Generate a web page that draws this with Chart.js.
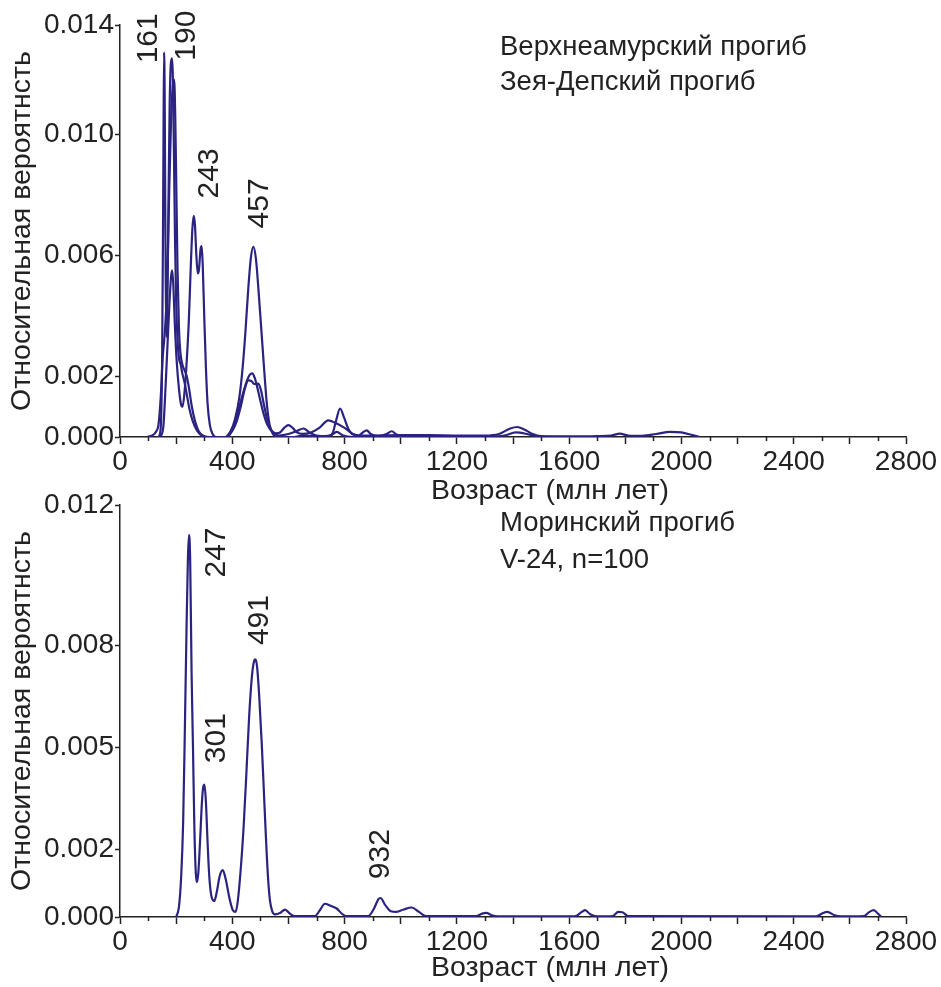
<!DOCTYPE html>
<html><head><meta charset="utf-8">
<script src="https://cdn.jsdelivr.net/npm/chart.js@4/dist/chart.umd.min.js"></script>
<style>
html,body{margin:0;padding:0;background:#fff;}
#wrap{position:relative;width:941px;height:987px;overflow:hidden;background:#fff;}
#c1{position:absolute;left:0;top:0;}
#c2{position:absolute;left:0;top:475px;}
</style></head><body>
<div id="wrap"><canvas id="c1" width="941" height="505"></canvas><canvas id="c2" width="941" height="512"></canvas></div>
<script>
// ---------- DATA ----------
// Top panel: three probability-density curves (age in Ma, relative probability)
const ageA = [138,145,150,153,155,157,159,161,163,166,169,173,177,181,185,188,192,196,200,205,210,216,222,230,238,248,260,275,295,320,375,395,410,425,440,452,462,471,480,490,500,512,525,540,555,570,585,600,615,630,650,680,710,742,770,800,830,850,900,1000,1100,1200,1300,1350,1390,1415,1440,1470,1500,1600,1700,1750,1781,1810,1860,1910,1959,2000,2040,2065];
const probA = [0,0.0003,0.0025,0.0065,0.010,0.0127,0.0115,0.008,0.005,0.0033,0.0045,0.008,0.011,0.0123,0.0125,0.012,0.0095,0.0065,0.0045,0.0032,0.0026,0.0024,0.0021,0.0018,0.0014,0.0009,0.0005,0.0002,0.00003,0,0,0.0002,0.0005,0.001,0.0015,0.00185,0.00205,0.0021,0.00195,0.0016,0.0012,0.00075,0.0004,0.0002,0.00012,0.00015,0.0003,0.00039,0.0003,0.00015,0.0001,0.00015,0.0003,0.00055,0.00045,0.0003,0.0001,0.00005,0.00005,0.00006,0.00006,0.00005,0.00005,0.0001,0.00028,0.00033,0.00025,0.0001,0.00003,0.00002,0.00003,0.00005,0.00011,0.00005,0.00004,0.0001,0.00017,0.00015,0.00006,0];
const ageB = [95,115,130,137,145,152,160,168,175,182,188,193,197,201,205,210,215,222,230,238,246,256,268,280,295,310,380,400,415,430,445,457,468,478,486,493,502,512,524,538,552,565,600,630,653,675,700,740,756,770,784,798,812,830,850,865,879,893,920,950,968,985,1010,1100,1300,1370,1410,1450,1490,1600];
const probB = [0,0.00005,0.0002,0.0004,0.0013,0.0026,0.0035,0.005,0.008,0.0105,0.0116,0.0118,0.0105,0.008,0.0055,0.0036,0.0028,0.0024,0.0022,0.002,0.0016,0.001,0.0005,0.0002,0.00005,0,0,0.0002,0.0005,0.001,0.0016,0.00187,0.00185,0.00175,0.00175,0.00176,0.00155,0.0011,0.0006,0.00025,0.0001,0.00005,0.0001,0.0002,0.00028,0.00015,0.00005,0.00003,0.0001,0.00055,0.00094,0.00065,0.0003,0.00008,0.00005,0.00015,0.00022,0.0001,0.00003,0.0001,0.00019,0.00008,0.00002,0.00002,0.00002,0.00005,0.00015,0.0001,0.00001,0];
const ageC = [145,155,163,170,176,182,186,190,195,202,210,217,223,230,237,245,252,258,263,267,272,277,281,287,291,295,300,306,312,320,330,342,380,395,410,425,437,447,457,466,475,484,493,503,513,523,533,545,560,620,650,700,750,772,795,830,1000];
const probC = [0,0.0004,0.0018,0.0032,0.0044,0.0053,0.0055,0.005,0.0038,0.0025,0.0016,0.0011,0.001,0.0015,0.0024,0.0038,0.0056,0.0069,0.0073,0.007,0.006,0.0054,0.0055,0.0062,0.0063,0.0056,0.004,0.0023,0.0011,0.0004,0.0001,0,0,0.0002,0.0006,0.0013,0.0023,0.0035,0.0049,0.0059,0.00628,0.0059,0.0049,0.0036,0.0023,0.0011,0.0004,0.0001,0,0,0.00005,0.00003,0.00005,0.00017,0.00005,0,0];

// Bottom panel: sample V-24
const ageD = [200,210,218,225,231,237,242,246,250,255,260,265,270,274,279,285,292,297,301,306,312,318,326,336,345,355,366,377,390,402,412,420,430,440,450,460,470,478,482,488,496,505,512,519,527,534,543,552,570,588,605,620,695,712,730,750,772,790,805,885,905,920,928,945,965,985,1010,1039,1065,1090,1270,1290,1305,1325,1345,1620,1645,1657,1675,1700,1755,1775,1790,1810,2480,2505,2520,2545,2570,2650,2670,2685,2700,2712];
const probD = [0,0.0003,0.0012,0.0028,0.0055,0.0085,0.0106,0.01126,0.0105,0.0072,0.005,0.0026,0.0013,0.00103,0.0013,0.0022,0.0034,0.00385,0.0039,0.0034,0.0022,0.0012,0.0006,0.00047,0.00075,0.0012,0.00138,0.0011,0.00055,0.0002,0.00015,0.0005,0.0014,0.0026,0.0042,0.0059,0.0071,0.00755,0.00759,0.0074,0.0065,0.0051,0.0038,0.0025,0.0012,0.0005,0.00015,0.00008,0.00012,0.00022,0.0001,0.00003,0.00003,0.0002,0.00039,0.00033,0.00025,0.0001,0.00003,0.00003,0.00025,0.00052,0.00056,0.00035,0.00017,0.00015,0.00022,0.00028,0.00015,0.00003,0.00003,0.0001,0.00012,0.00005,0.00002,0.00002,0.00015,0.0002,0.00008,0.00002,0.00003,0.00015,0.00014,0.00003,0.00002,0.00012,0.00015,0.00005,0.00002,0.00003,0.00015,0.0002,0.0001,0];

// Axis ticks
const xMajorTicks = [0,200,400,600,800,1000,1200,1400,1600,1800,2000,2200,2400,2600,2800];
const xLabelEvery = 400;
const xMinorStep = 100;
const yTicksTop = [0, 0.002, 0.006, 0.010, 0.0136];
const yTicksBottom = [0, 0.002, 0.005, 0.008, 0.01214];

// Texts
const xTitle = 'Возраст (млн лет)';
const yTitle = 'Относительная вероятнсть';
const legendTop = ['Верхнеамурский прогиб', 'Зея-Депский прогиб'];
const legendBottom = ['Моринский прогиб', 'V-24, n=100'];
const peakTextTop = ['161', '190', '243', '457'];
const peakAgeTop = [103, 237, 321, 499];
const peakProbTop = [0.01316, 0.01325, 0.0087, 0.00771];
const peakTextBottom = ['247', '301', '491', '932'];
const peakAgeBottom = [344, 344, 499, 928];
const peakProbBottom = [0.01074, 0.00527, 0.00875, 0.00185];

// ---------- STYLE ----------
const LINE = '#2A2380';
const INK = '#222222';
const FONT = '"Liberation Sans", Arial, sans-serif';

function zip(ages, probs) { return ages.map((a, i) => ({x: a, y: probs[i]})); }

function ds(ages, probs) {
  return {data: zip(ages, probs), borderColor: LINE, borderWidth: 2.2, pointRadius: 0,
          fill: false, cubicInterpolationMode: 'monotone', tension: 0};
}

function textPlugin(cfg) {
  return {
    id: 'texts_' + cfg.id,
    afterDraw(chart) {
      const {ctx} = chart;
      const xs = chart.scales.x, ys = chart.scales.y;
      ctx.save();
      ctx.fillStyle = INK;
      ctx.strokeStyle = INK;
      // minor x ticks
      ctx.lineWidth = 1.5;
      const bottom = chart.chartArea.bottom;
      for (let v = 0; v <= 2800; v += xMinorStep) {
        if (v % 200 === 0) continue;
        const px = Math.round(xs.getPixelForValue(v)) + 0.5;
        ctx.beginPath(); ctx.moveTo(px, bottom); ctx.lineTo(px, bottom + 4); ctx.stroke();
      }
      // peak labels (rotated)
      ctx.font = '30px ' + FONT;
      ctx.textAlign = 'center';
      ctx.textBaseline = 'middle';
      cfg.peakText.forEach((t, i) => {
        const px = xs.getPixelForValue(cfg.peakAge[i]);
        const py = ys.getPixelForValue(cfg.peakProb[i]);
        ctx.save(); ctx.translate(px, py); ctx.rotate(-Math.PI / 2);
        ctx.fillText(t, 0, 0); ctx.restore();
      });
      // legend text
      ctx.font = '27.5px ' + FONT;
      ctx.textAlign = 'left';
      cfg.legend.forEach((t, i) => {
        ctx.fillText(t, cfg.legendX, cfg.legendY + i * cfg.legendGap);
      });
      // x title
      ctx.font = '28.5px ' + FONT;
      ctx.textAlign = 'center';
      ctx.fillText(xTitle, cfg.xTitleX, cfg.xTitleY);
      ctx.restore();
    }
  };
}

function makeChart(canvasId, datasets, yTicks, topPad, xHeight, plugCfg) {
  const yMax = yTicks[yTicks.length - 1];
  return new Chart(document.getElementById(canvasId), {
    type: 'line',
    data: {datasets},
    options: {
      responsive: false,
      animation: false,
      events: [],
      layout: {padding: {top: topPad, right: 35, left: 0, bottom: 0}},
      plugins: {legend: {display: false}, tooltip: {enabled: false}, title: {display: false}},
      scales: {
        x: {
          type: 'linear', min: 0, max: 2800,
          afterBuildTicks: (s) => { s.ticks = xMajorTicks.map(v => ({value: v})); },
          afterFit: (s) => { s.height = xHeight; },
          ticks: {autoSkip: false, maxRotation: 0, padding: 1, color: INK,
                  font: {family: FONT, size: 28},
                  callback: (v) => (v % xLabelEvery === 0 ? String(v) : '')},
          grid: {display: true, drawOnChartArea: false, drawTicks: true, tickLength: 7,
                 tickColor: INK, tickWidth: 1.5},
          border: {display: true, color: INK, width: 1.5}
        },
        y: {
          type: 'linear', min: 0, max: yMax,
          afterBuildTicks: (s) => { s.ticks = yTicks.map(v => ({value: v})); },
          afterFit: (s) => { s.width = 120; },
          ticks: {autoSkip: false, padding: 1, color: INK, font: {family: FONT, size: 28},
                  callback: (v) => Number(v).toFixed(3)},
          grid: {display: true, drawOnChartArea: false, drawTicks: true, tickLength: 5,
                 tickColor: INK, tickWidth: 1.5},
          border: {display: true, color: INK, width: 1.5},
          title: {display: true, text: yTitle, color: INK, font: {family: FONT, size: 28.5},
                  padding: {top: 5.5, bottom: 0}}
        }
      }
    },
    plugins: [textPlugin(plugCfg)]
  });
}

makeChart('c1', [ds(ageA, probA), ds(ageB, probB), ds(ageC, probC)], yTicksTop, 25, 68, {
  id: 'top', peakText: peakTextTop, peakAge: peakAgeTop, peakProb: peakProbTop,
  legend: legendTop, legendX: 500, legendY: 47, legendGap: 35, xTitleX: 550, xTitleY: 491
});
makeChart('c2', [ds(ageD, probD)], yTicksBottom, 30, 70, {
  id: 'bot', peakText: peakTextBottom, peakAge: peakAgeBottom, peakProb: peakProbBottom,
  legend: legendBottom, legendX: 500, legendY: 48, legendGap: 37, xTitleX: 550, xTitleY: 493
});
</script>
</body></html>
